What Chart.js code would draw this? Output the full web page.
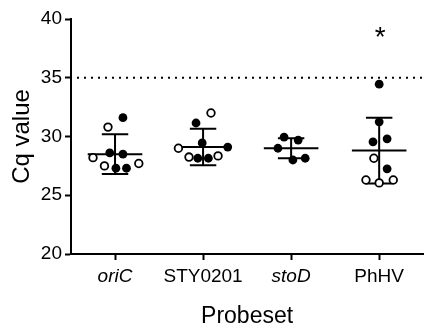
<!DOCTYPE html>
<html><head><meta charset="utf-8">
<script src="https://cdn.jsdelivr.net/npm/chart.js@4/dist/chart.umd.min.js"></script>
<style>html,body{margin:0;padding:0;background:#fff}#wrap{width:429px;height:329px;position:relative}</style>
</head><body><div id="wrap"><canvas id="c" width="429" height="329"></canvas></div>
<script>
// ---------- data ----------
const categories = ['oriC', 'STY0201', 'stoD', 'PhHV'];
const italicLabels = [true, false, true, false];
const yTicks = [20, 25, 30, 35, 40];

// Cq values per probeset (1 = filled circle, 0 = open circle); spread = beeswarm offset in category units
const oriCValues   = [30.8, 31.6, 28.6, 28.5, 28.2, 27.5, 27.3, 27.3, 27.7];
const oriCFilled   = [0, 1, 1, 1, 0, 0, 1, 1, 0];
const oriCSpread   = [-0.08, 0.09, -0.06, 0.09, -0.25, -0.12, 0.01, 0.13, 0.27];

const styValues    = [32.0, 31.15, 29.45, 29.0, 29.1, 28.25, 28.15, 28.15, 28.35];
const styFilled    = [0, 1, 1, 0, 1, 0, 1, 1, 0];
const stySpread    = [0.09, -0.08, -0.01, -0.28, 0.28, -0.16, -0.06, 0.06, 0.17];

const stoDValues   = [29.95, 29.7, 29.0, 28.0, 28.15];
const stoDFilled   = [1, 1, 1, 1, 1];
const stoDSpread   = [-0.08, 0.08, -0.15, 0.02, 0.16];

const phhvValues   = [34.45, 31.25, 29.55, 29.8, 28.15, 27.25, 26.3, 26.05, 26.3];
const phhvFilled   = [1, 1, 1, 1, 0, 1, 0, 0, 0];
const phhvSpread   = [0.0, 0.0, -0.07, 0.09, -0.06, 0.09, -0.15, 0.0, 0.16];

const groupMeans = [28.5, 29.1, 29.0, 28.8];
const groupSDs   = [1.7, 1.55, 0.85, 2.8];

const detectionLimit = 35;
const sigMarks = ['', '', '', '*'];
const sigLevel = 37.7;

// ---------- build ----------
const FONT = '"Liberation Sans", Arial, Helvetica, sans-serif';
const groups = [
  [oriCValues, oriCFilled, oriCSpread],
  [styValues, styFilled, stySpread],
  [stoDValues, stoDFilled, stoDSpread],
  [phhvValues, phhvFilled, phhvSpread]
];
const filledPts = [], openPts = [];
groups.forEach(([vals, fill, spread], gi) => {
  vals.forEach((v, k) => {
    const p = {x: gi + spread[k], y: v};
    (fill[k] ? filledPts : openPts).push(p);
  });
});

const errorBars = {
  id: 'errorBars',
  beforeDatasetsDraw(chart) {
    const {ctx, scales: {x, y}} = chart;
    ctx.save();
    ctx.strokeStyle = '#000';
    ctx.lineWidth = 2;
    ctx.lineCap = 'butt';
    groupMeans.forEach((m, i) => {
      const cx = x.getPixelForValue(i);
      const mw = x.getPixelForValue(i + 0.31) - cx;
      const cw = x.getPixelForValue(i + 0.15) - cx;
      const ym = y.getPixelForValue(m);
      const yu = y.getPixelForValue(m + groupSDs[i]);
      const yl = y.getPixelForValue(m - groupSDs[i]);
      ctx.beginPath();
      ctx.moveTo(cx - mw, ym); ctx.lineTo(cx + mw, ym);
      ctx.moveTo(cx, yu); ctx.lineTo(cx, yl);
      ctx.moveTo(cx - cw, yu); ctx.lineTo(cx + cw, yu);
      ctx.moveTo(cx - cw, yl); ctx.lineTo(cx + cw, yl);
      ctx.stroke();
    });
    ctx.restore();
  },
  afterDatasetsDraw(chart) {
    const {ctx, scales: {x, y}} = chart;
    ctx.save();
    ctx.fillStyle = '#000';
    ctx.font = '28px ' + FONT;
    ctx.textAlign = 'center';
    ctx.textBaseline = 'alphabetic';
    sigMarks.forEach((s, i) => {
      if (s) ctx.fillText(s, x.getPixelForValue(i) + 1, y.getPixelForValue(sigLevel));
    });
    ctx.restore();
  }
};

const axisGrid = {display: true, drawOnChartArea: false, drawTicks: true, tickLength: 6, tickWidth: 2, tickColor: '#000'};
const axisBorder = {display: true, color: '#000', width: 2};

new Chart(document.getElementById('c'), {
  type: 'scatter',
  data: {
    datasets: [
      {data: [{x: -0.5, y: detectionLimit}, {x: 3.5, y: detectionLimit}], type: 'line', borderColor: '#000', borderWidth: 2, borderDash: [2, 5], borderDashOffset: 1, pointRadius: 0, fill: false},
      {data: openPts, pointRadius: 3.8, backgroundColor: '#fff', borderColor: '#000', borderWidth: 1.8},
      {data: filledPts, pointRadius: 4.4, backgroundColor: '#000', borderColor: '#000', borderWidth: 0}
    ]
  },
  options: {
    responsive: false,
    animation: false,
    devicePixelRatio: 1,
    layout: {padding: {top: 19, right: 2, left: 0, bottom: 0}},
    plugins: {legend: {display: false}, tooltip: {enabled: false}},
    scales: {
      x: {
        type: 'linear', min: -0.5, max: 3.5,
        afterBuildTicks: s => { s.ticks = categories.map((c, i) => ({value: i})); },
        ticks: {
          callback: (v, i) => categories[i],
          font: c => ({family: FONT, size: 19, style: italicLabels[c.index] ? 'italic' : 'normal'}),
          color: '#000', padding: 5, autoSkip: false, maxRotation: 0
        },
        grid: axisGrid, border: axisBorder,
        title: {display: true, text: 'Probeset', color: '#000', font: {family: FONT, size: 23}, padding: {top: 0, bottom: -1}},
        afterFit: s => { s.height = 75; }
      },
      y: {
        min: 20, max: 40,
        afterBuildTicks: s => { s.ticks = yTicks.map(v => ({value: v})); },
        ticks: {color: '#000', font: {family: FONT, size: 19}, padding: 3},
        grid: axisGrid, border: axisBorder,
        title: {display: true, text: 'Cq value', color: '#000', font: {family: FONT, size: 24}, padding: {top: 8, bottom: 0}},
        afterFit: s => { s.width = 71; }
      }
    }
  },
  plugins: [errorBars]
});
</script></body></html>
